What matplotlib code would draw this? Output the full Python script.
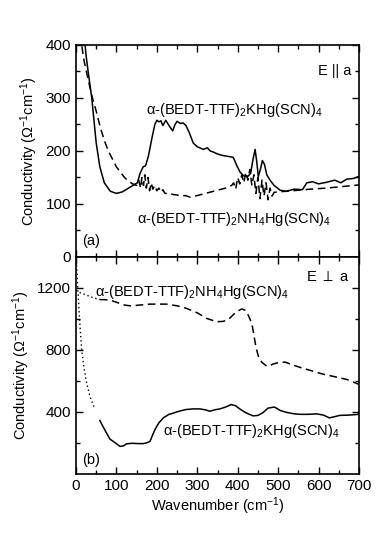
import matplotlib
matplotlib.use("Agg")
import matplotlib.pyplot as plt
from matplotlib.ticker import MultipleLocator, FixedLocator, NullFormatter

plt.rcParams['font.family'] = ['Liberation Sans', 'DejaVu Sans']
plt.rcParams['mathtext.default'] = 'regular'

# ---- Panel (a): E || a ----
a_k_x = [20, 25, 30, 39, 50, 59, 70, 85, 100, 115, 130, 145, 152, 158, 166, 172, 179, 188, 195, 200,
         205, 210, 215, 222, 230, 239, 245, 250, 258, 265, 272, 280, 290, 300, 315, 325, 332, 340,
         348, 360, 375, 389, 398, 406, 415, 425, 432, 438, 443, 447, 451, 456, 461, 466, 472, 480,
         490, 505, 520, 540, 560, 571, 585, 600, 620, 640, 655, 670, 685, 700]
a_k_y = [420, 380, 350, 300, 215, 170, 140, 124, 120, 123, 130, 137, 140, 157, 170, 172, 190, 225, 250, 258,
         255, 257, 248, 258, 248, 238, 250, 256, 252, 253, 248, 235, 215, 208, 203, 206, 200, 198,
         195, 192, 190, 188, 172, 160, 153, 152, 158, 185, 203, 180, 152, 165, 182, 175, 155, 145,
         135, 126, 124, 128, 127, 140, 142, 138, 141, 145, 140, 147, 148, 152]

a_n_x = [10, 20, 30, 39, 50, 60, 70, 80, 90, 100, 110, 120, 130, 140, 150, 155, 160, 163, 167, 170,
         174, 178, 182, 186, 190, 195, 200, 205, 210, 215, 220, 230, 240, 250, 260, 270, 282, 295,
         310, 330, 350, 370, 385, 390, 395, 400, 405, 410, 415, 420, 425, 430, 435, 440, 445, 450,
         455, 460, 465, 470, 475, 480, 485, 490, 500, 520, 550, 580, 620, 660, 700]
a_n_y = [420, 370, 335, 305, 275, 245, 220, 200, 185, 170, 160, 150, 143, 138, 135, 145, 130, 150, 135, 155,
         130, 150, 125, 140, 128, 135, 125, 130, 122, 127, 120, 120, 118, 117, 115, 116, 113, 115,
         118, 122, 126, 130, 135, 140, 128, 150, 138, 155, 140, 160, 145, 165, 135, 155, 120, 150,
         110, 145, 115, 140, 108, 130, 115, 122, 123, 124, 126, 128, 130, 133, 136]

# ---- Panel (b): E perp a ----
b_n_dot_x = [0, 10, 25, 40, 59]
b_n_dot_y = [1185, 1170, 1155, 1140, 1125]
b_n_x = [59, 70, 84, 100, 120, 134, 150, 183, 224, 250, 272, 300, 322, 348, 365, 380, 396, 410, 420,
         427, 435, 439, 445, 451, 460, 472, 480, 488, 500, 517, 535, 554, 580, 610, 636, 670, 700]
b_n_y = [1125, 1125, 1122, 1108, 1090, 1085, 1088, 1096, 1096, 1085, 1070, 1040, 1005, 982, 985, 1005,
         1045, 1065, 1055, 1020, 970, 912, 820, 760, 720, 695, 700, 710, 718, 722, 705, 688, 668, 645,
         630, 610, 578]

b_k_dot_x = [0, 3, 6, 10, 14, 20, 26, 35, 47]
b_k_dot_y = [1400, 1270, 1127, 950, 800, 680, 590, 495, 418]
b_k_x = [59, 70, 84, 95, 109, 118, 125, 140, 155, 166, 174, 183, 190, 196, 205, 216, 230, 241, 255,
         272, 290, 306, 320, 331, 345, 356, 370, 384, 395, 405, 420, 438, 450, 462, 475, 491, 505,
         520, 540, 554, 575, 595, 612, 627, 640, 652, 675, 700]
b_k_y = [345, 290, 225, 205, 178, 182, 195, 198, 196, 196, 200, 210, 255, 290, 330, 362, 385, 393, 405,
         416, 420, 420, 414, 405, 415, 420, 432, 448, 440, 420, 395, 375, 378, 395, 425, 432, 410,
         398, 388, 385, 385, 388, 380, 362, 370, 378, 380, 385]

label_k = r'$\alpha$-(BEDT-TTF)$_2$KHg(SCN)$_4$'
label_n = r'$\alpha$-(BEDT-TTF)$_2$NH$_4$Hg(SCN)$_4$'
ylab = r'Conductivity ($\Omega^{-1}$cm$^{-1}$)'

fig = plt.figure(figsize=(3.82, 5.49), dpi=100)
L, R = 76 / 382, 359 / 382
ax1 = fig.add_axes([L, 1 - 257 / 549, R - L, (257 - 45) / 549])
ax2 = fig.add_axes([L, 1 - 474 / 549, R - L, (474 - 257) / 549])

dash = (0, (5, 3))
lw = 1.1
ax1.plot(a_k_x, a_k_y, color='black', lw=lw)
ax1.plot(a_n_x, a_n_y, color='black', lw=lw, linestyle=dash)
ax1.set_xlim(0, 700)
ax1.set_ylim(0, 400)
ax1.yaxis.set_major_locator(MultipleLocator(100))
ax1.yaxis.set_minor_locator(MultipleLocator(50))
ax1.xaxis.set_major_locator(MultipleLocator(100))
ax1.xaxis.set_minor_locator(MultipleLocator(50))
ax1.xaxis.set_major_formatter(NullFormatter())
ax1.text(680, 350, 'E || a', ha='right', va='center', fontsize=10.5)
ax1.text(173, 277, label_k, ha='left', va='center', fontsize=10.5)
ax1.text(151, 72, label_n, ha='left', va='center', fontsize=10.5)
ax1.text(15, 30, '(a)', ha='left', va='center', fontsize=10.5)
ax1.set_ylabel(ylab, fontsize=10.5, labelpad=4)

ax2.plot(b_n_dot_x, b_n_dot_y, color='black', lw=1.0, linestyle=(0, (1, 2)))
ax2.plot(b_n_x, b_n_y, color='black', lw=lw, linestyle=dash)
ax2.plot(b_k_dot_x, b_k_dot_y, color='black', lw=1.0, linestyle=(0, (1, 2)))
ax2.plot(b_k_x, b_k_y, color='black', lw=lw)
ax2.set_xlim(0, 700)
ax2.set_ylim(0, 1400)
ax2.yaxis.set_major_locator(FixedLocator([400, 800, 1200]))
ax2.yaxis.set_minor_locator(FixedLocator([200, 600, 1000]))
ax2.xaxis.set_major_locator(MultipleLocator(100))
ax2.xaxis.set_minor_locator(MultipleLocator(50))
ax2.text(678, 1270, r'E $\perp$ a', ha='right', va='center', fontsize=10.5)
ax2.text(47, 1173, label_n, ha='left', va='center', fontsize=10.5)
ax2.text(215, 275, label_k, ha='left', va='center', fontsize=10.5)
ax2.text(15, 90, '(b)', ha='left', va='center', fontsize=10.5)
ax2.set_ylabel(ylab, fontsize=10.5, labelpad=4)
ax2.set_xlabel(r'Wavenumber (cm$^{-1}$)', fontsize=10.5, labelpad=2)

for ax in (ax1, ax2):
    ax.tick_params(which='both', direction='in', top=True, right=True, labelsize=11)
    ax.tick_params(which='major', length=5, width=1)
    ax.tick_params(which='minor', length=3, width=1)
    for s in ax.spines.values():
        s.set_linewidth(1.2)

fig.savefig('out.png', dpi=100)
